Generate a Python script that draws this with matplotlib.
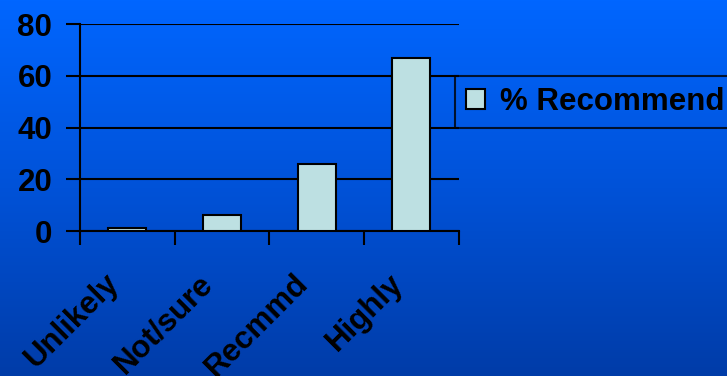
import numpy as np
import matplotlib.pyplot as plt
from matplotlib.colors import LinearSegmentedColormap

plt.rcParams['font.family'] = ['Liberation Sans', 'DejaVu Sans']
plt.rcParams['font.weight'] = 'bold'

categories = ['Unlikely', 'Not/sure', 'Recmmd', 'Highly']
pct_recommend = [1, 6, 26, 67]
yticks = [0, 20, 40, 60, 80]

fs = 22.5

fig = plt.figure(figsize=(7.27, 3.76), dpi=100)

# blue gradient background
bg = fig.add_axes([0, 0, 1, 1], zorder=0)
grad = np.linspace(0, 1, 256).reshape(-1, 1)
cmap = LinearSegmentedColormap.from_list('bg', ['#0066ff', '#0052d8', '#003ca8'])
bg.imshow(grad, aspect='auto', cmap=cmap, extent=[0, 1, 0, 1])
bg.set_axis_off()

ax = fig.add_axes([0.110, 0.3856, 0.521, 0.5505], zorder=1)
ax.patch.set_alpha(0)

x = np.arange(len(categories))
ax.bar(x, pct_recommend, width=0.4, color='#bde0e2', edgecolor='black',
       linewidth=1.5, label='% Recommend', zorder=3)

ax.set_xlim(-0.5, len(categories) - 0.5)
ax.set_ylim(0, 80)
ax.set_yticks(yticks)
ax.set_yticklabels([str(v) for v in yticks], fontsize=fs, fontweight='bold')
ax.yaxis.grid(True, color='black', linewidth=1.5, zorder=0)
ax.set_axisbelow(True)

ax.set_xticks(np.arange(len(categories) + 1) - 0.5)
ax.set_xticklabels([])
ax.tick_params(axis='x', direction='out', length=10, width=1.5, color='black')
ax.tick_params(axis='y', direction='out', length=10, width=1.5, color='black', pad=10)
# rotated category labels (bottom ones run off the figure edge like the original)
for i, c in enumerate(categories):
    ax.text(i - 0.25, -14.5, c, rotation=45, ha='right', va='top',
            fontsize=fs, fontweight='bold', color='black', rotation_mode='anchor')

for s in ['top', 'right']:
    ax.spines[s].set_visible(False)
ax.spines['left'].set_linewidth(1.5)
ax.spines['bottom'].set_linewidth(1.5)

leg = fig.legend(loc='center left', bbox_to_anchor=(455 / 727, 1 - 102 / 376),
                 prop={'size': fs, 'weight': 'bold'}, frameon=True, fancybox=False,
                 handlelength=0.6, handleheight=0.6, handletextpad=0.5,
                 borderpad=0.35, borderaxespad=0)
leg.get_frame().set_edgecolor('black')
leg.get_frame().set_linewidth(1.5)
leg.get_frame().set_facecolor('none')

plt.savefig('out.png', dpi=100)
